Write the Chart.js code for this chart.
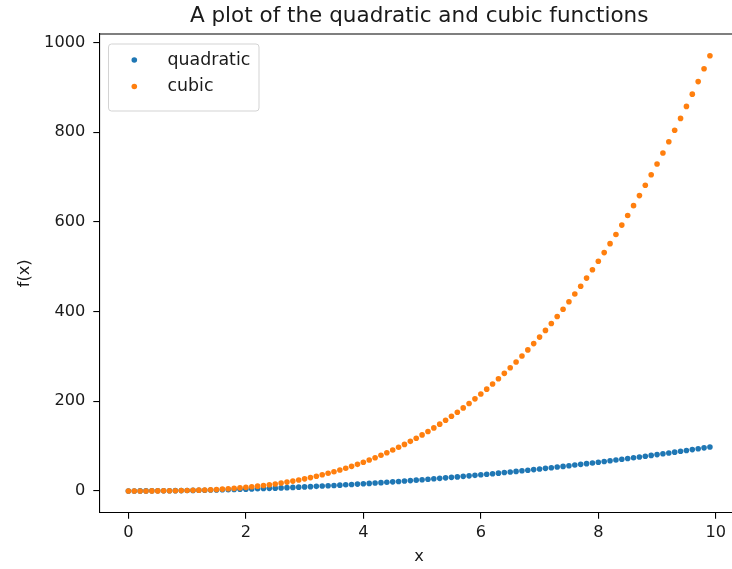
<!DOCTYPE html>
<html>
<head>
<meta charset="utf-8">
<script src="https://cdn.jsdelivr.net/npm/chart.js@4.4.0/dist/chart.umd.min.js"></script>
<style>
html,body{margin:0;padding:0;background:#fff;overflow:hidden;width:732px;height:569px;}
#wrap{position:absolute;left:0;top:0;width:760px;height:569px;}
</style>
</head>
<body>
<div id="wrap"><canvas id="c"></canvas></div>
<script>
const xValues = [0.0,0.1,0.2,0.3,0.4,0.5,0.6,0.7,0.8,0.9,
1.0,1.1,1.2,1.3,1.4,1.5,1.6,1.7,1.8,1.9,
2.0,2.1,2.2,2.3,2.4,2.5,2.6,2.7,2.8,2.9,
3.0,3.1,3.2,3.3,3.4,3.5,3.6,3.7,3.8,3.9,
4.0,4.1,4.2,4.3,4.4,4.5,4.6,4.7,4.8,4.9,
5.0,5.1,5.2,5.3,5.4,5.5,5.6,5.7,5.8,5.9,
6.0,6.1,6.2,6.3,6.4,6.5,6.6,6.7,6.8,6.9,
7.0,7.1,7.2,7.3,7.4,7.5,7.6,7.7,7.8,7.9,
8.0,8.1,8.2,8.3,8.4,8.5,8.6,8.7,8.8,8.9,
9.0,9.1,9.2,9.3,9.4,9.5,9.6,9.7,9.8,9.9];

const quadraticValues = [0,0.01,0.04,0.09,0.16,0.25,0.36,0.49,0.64,0.81,
1,1.21,1.44,1.69,1.96,2.25,2.56,2.89,3.24,3.61,
4,4.41,4.84,5.29,5.76,6.25,6.76,7.29,7.84,8.41,
9,9.61,10.24,10.89,11.56,12.25,12.96,13.69,14.44,15.21,
16,16.81,17.64,18.49,19.36,20.25,21.16,22.09,23.04,24.01,
25,26.01,27.04,28.09,29.16,30.25,31.36,32.49,33.64,34.81,
36,37.21,38.44,39.69,40.96,42.25,43.56,44.89,46.24,47.61,
49,50.41,51.84,53.29,54.76,56.25,57.76,59.29,60.84,62.41,
64,65.61,67.24,68.89,70.56,72.25,73.96,75.69,77.44,79.21,
81,82.81,84.64,86.49,88.36,90.25,92.16,94.09,96.04,98.01];

const cubicValues = [0,0.001,0.008,0.027,0.064,0.125,0.216,0.343,0.512,0.729,
1,1.331,1.728,2.197,2.744,3.375,4.096,4.913,5.832,6.859,
8,9.261,10.648,12.167,13.824,15.625,17.576,19.683,21.952,24.389,
27,29.791,32.768,35.937,39.304,42.875,46.656,50.653,54.872,59.319,
64,68.921,74.088,79.507,85.184,91.125,97.336,103.823,110.592,117.649,
125,132.651,140.608,148.877,157.464,166.375,175.616,185.193,195.112,205.379,
216,226.981,238.328,250.047,262.144,274.625,287.496,300.763,314.432,328.509,
343,357.911,373.248,389.017,405.224,421.875,438.976,456.533,474.552,493.039,
512,531.441,551.368,571.787,592.704,614.125,636.056,658.503,681.472,704.969,
729,753.571,778.688,804.357,830.584,857.375,884.736,912.673,941.192,970.299];

const xTicks = [0,2,4,6,8,10];
const yTicks = [0,200,400,600,800,1000];
const seriesLabels = ['quadratic','cubic'];
const titleText = 'A plot of the quadratic and cubic functions';
const xLabel = 'x';
const yLabel = 'f(x)';

const FONT = 'DejaVu Sans';
const toPts = ys => xValues.map((x,i)=>({x:x,y:ys[i]}));

const framePlugin = {
  id:'frame',
  afterDraw(chart){
    const ctx = chart.ctx, a = chart.chartArea;
    ctx.save();
    ctx.strokeStyle = '#000';
    ctx.lineWidth = 1.1;
    ctx.beginPath();
    ctx.moveTo(a.left, a.top); ctx.lineTo(a.right, a.top);
    ctx.moveTo(a.right, a.top); ctx.lineTo(a.right, a.bottom);
    ctx.stroke();
    // legend
    const bx = 108.5, by = 44, bw = 150.5, bh = 67, r = 3;
    ctx.fillStyle = 'rgba(255,255,255,0.8)';
    ctx.strokeStyle = '#d3d3d3';
    ctx.lineWidth = 1;
    ctx.beginPath();
    ctx.moveTo(bx+r,by); ctx.lineTo(bx+bw-r,by); ctx.arcTo(bx+bw,by,bx+bw,by+r,r);
    ctx.lineTo(bx+bw,by+bh-r); ctx.arcTo(bx+bw,by+bh,bx+bw-r,by+bh,r);
    ctx.lineTo(bx+r,by+bh); ctx.arcTo(bx,by+bh,bx,by+bh-r,r);
    ctx.lineTo(bx,by+r); ctx.arcTo(bx,by,bx+r,by,r);
    ctx.closePath(); ctx.fill(); ctx.stroke();
    const rows = [60, 86.5];
    chart.data.datasets.forEach((ds, i) => {
      const yy = rows[i];
      ctx.fillStyle = ds.backgroundColor;
      ctx.beginPath(); ctx.arc(134.3, yy, 2.8, 0, Math.PI*2); ctx.fill();
      ctx.fillStyle = '#1a1a1a';
      ctx.font = '17.4px "' + FONT + '"';
      ctx.textBaseline = 'middle';
      ctx.textAlign = 'left';
      ctx.fillText(ds.label, 167.5, yy);
    });
    ctx.restore();
  }
};

new Chart(document.getElementById('c'), {
  type: 'scatter',
  data: {
    datasets: [
      {label: seriesLabels[0], data: toPts(quadraticValues), backgroundColor:'#1f77b4', borderColor:'#1f77b4', pointRadius:2.8, pointBorderWidth:0, pointHoverRadius:2.8, order:1},
      {label: seriesLabels[1], data: toPts(cubicValues), backgroundColor:'#ff7f0e', borderColor:'#ff7f0e', pointRadius:2.8, pointBorderWidth:0, pointHoverRadius:2.8, order:0}
    ]
  },
  options: {
    responsive:true, maintainAspectRatio:false, animation:false, devicePixelRatio:1,
    layout:{padding:{left:0, right:21, top:0, bottom:0}},
    plugins:{
      legend:{display:false}, tooltip:{enabled:false},
      title:{display:true, fullSize:false, text:titleText, color:'#1a1a1a', font:{family:FONT, size:21.5, weight:'normal', lineHeight:1.0}, padding:{top:5.5, bottom:7}}
    },
    scales:{
      x:{
        type:'linear', min:-0.495, max:10.395,
        afterBuildTicks(s){ s.ticks = xTicks.map(v=>({value:v})); },
        afterFit(s){ s.height = 56.3; },
        grid:{drawOnChartArea:false, drawTicks:true, tickLength:6, color:'#000', lineWidth:1.1},
        border:{display:true, color:'#000', width:1.1},
        ticks:{color:'#1a1a1a', font:{family:FONT, size:16.2}, padding:4, maxRotation:0, autoSkip:false, callback:v=>String(v)},
        title:{display:true, text:xLabel, color:'#1a1a1a', font:{family:FONT, size:16.2, lineHeight:1.2}, padding:{top:0,bottom:2}}
      },
      y:{
        type:'linear', min:-48.515, max:1018.814,
        afterBuildTicks(s){ s.ticks = yTicks.map(v=>({value:v})); },
        afterFit(s){ s.width = 99.3; },
        grid:{drawOnChartArea:false, drawTicks:true, tickLength:6, color:'#000', lineWidth:1.1},
        border:{display:true, color:'#000', width:1.1},
        ticks:{color:'#1a1a1a', font:{family:FONT, size:16.2}, padding:8, autoSkip:false, callback:v=>String(v)},
        title:{display:true, text:yLabel, color:'#1a1a1a', font:{family:FONT, size:16.2, lineHeight:1.2}, padding:{top:15,bottom:0}}
      }
    }
  },
  plugins:[framePlugin]
});
</script>
</body>
</html>
